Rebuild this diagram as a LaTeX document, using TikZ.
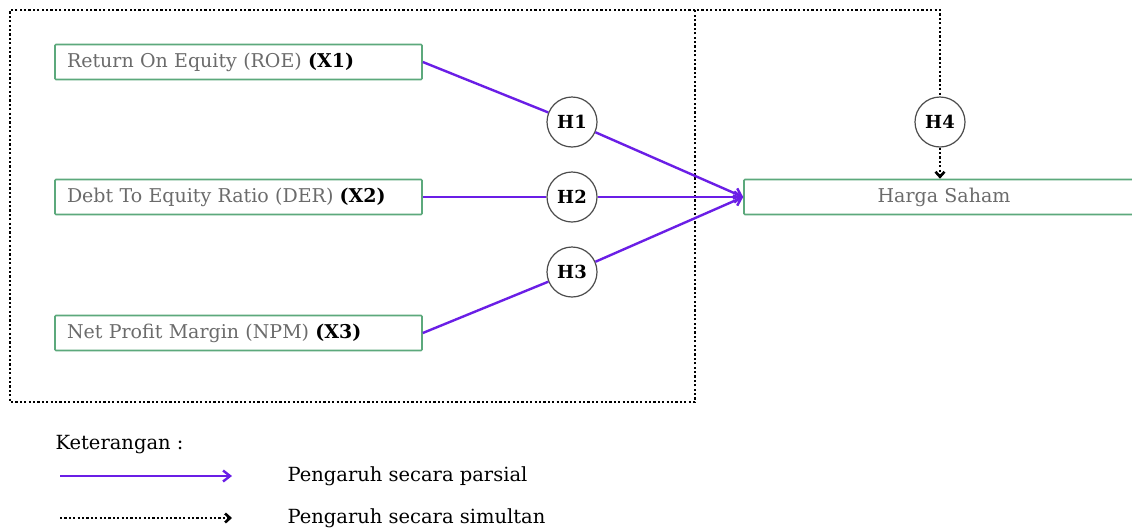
\documentclass[tikz,border=0pt]{standalone}
\usepackage{fontspec}
\setmainfont{DejaVu Serif}
\usetikzlibrary{arrows.meta}

\definecolor{parsial}{HTML}{6A1EE6}
\definecolor{boxgreen}{HTML}{5CA97C}
\definecolor{boxtext}{HTML}{6B6B6B}

\tikzset{
  varbox/.style={draw=boxgreen, line width=1.6pt, rounded corners=1pt, minimum width=367pt, minimum height=35pt,
    text width=343pt, align=left, inner xsep=12pt, text=boxtext, font=\fontsize{19}{22}\selectfont},
  hyp/.style={circle, draw=black!70, line width=1.2pt, minimum size=50pt, inner sep=0pt, font=\bfseries\fontsize{18}{20}\selectfont},
  partial/.style={draw=parsial, line width=2.4pt, -{Straight Barb[length=7pt,width=11pt]}},
  simul/.style={line width=2.6pt, dash pattern=on 2.2pt off 2.2pt, -{Straight Barb[length=5pt,width=9pt]}},
  legend/.style={anchor=west, font=\fontsize{19.5}{22}\selectfont}
}

\begin{document}
\begin{tikzpicture}[x=1pt, y=-1pt]
  \useasboundingbox[fill=white] (0,0) rectangle (1132,528);

  % variables
  \node[varbox] (roe) at (238.5,62) {Return On Equity (ROE) \textcolor{black}{\bfseries (X1)}};
  \node[varbox] (der) at (238.5,197) {Debt To Equity Ratio (DER) \textcolor{black}{\bfseries (X2)}};
  \node[varbox] (npm) at (238.5,333) {Net Profit Margin (NPM) \textcolor{black}{\bfseries (X3)}};
  \node[varbox, minimum width=400pt, text width=376pt, align=center] (harga) at (944,197) {Harga Saham};

  % hypotheses
  \node[hyp] (h1) at (572,122) {H1};
  \node[hyp] (h2) at (572,197) {H2};
  \node[hyp] (h3) at (572,272) {H3};
  \node[hyp] (h4) at (940,122) {H4};

  % simultaneous frame
  \coordinate (corner) at (940,10);
  \draw[line width=2.6pt, dash pattern=on 2.2pt off 2.2pt] (695,10) -- (10,10) -- (10,402) -- (695,402) -- (695,10) -- (corner) -- (h4.north);
  \draw[simul] (h4.south) -- (harga.north -| h4);

  % partial effects
  \draw[draw=parsial, line width=2.4pt] (roe.east) -- (h1);
  \draw[draw=parsial, line width=2.4pt] (der.east) -- (h2);
  \draw[draw=parsial, line width=2.4pt] (npm.east) -- (h3);
  \path (h1) edge[partial] (harga.west)
        (h2) edge[partial] (harga.west)
        (h3) edge[partial] (harga.west);

  % legend
  \node[legend] (ket) at (52,445) {Keterangan :};
  \coordinate (pa) at (60,476);
  \coordinate (pb) at (232,476);
  \coordinate (sa) at (60,518);
  \coordinate (sb) at (232,518);
  \draw[partial] (pa) -- (pb);
  \draw[simul] (sa) -- (sb);
  \node[legend] (lpar) at (284,476) {Pengaruh secara parsial};
  \node[legend] (lsim) at (284,518) {Pengaruh secara simultan};
\end{tikzpicture}
\end{document}
